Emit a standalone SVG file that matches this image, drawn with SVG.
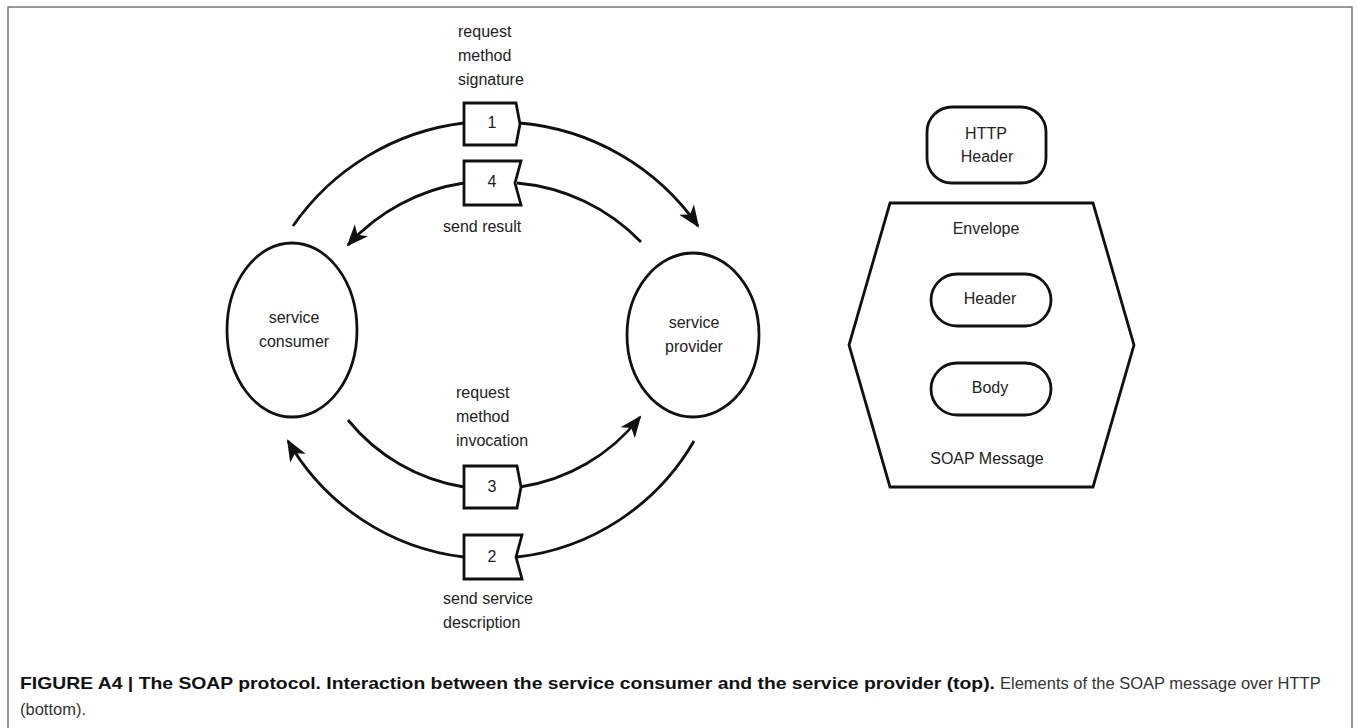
<svg xmlns="http://www.w3.org/2000/svg" width="1356" height="728" viewBox="0 0 1356 728">
<style>
.shape{fill:#fff;stroke:#111;stroke-width:2.8}
.conn{fill:none;stroke:#111;stroke-width:2.8}
text{font-family:"Liberation Sans",Arial,sans-serif;font-size:16px;fill:#222}
.c{text-anchor:middle}
.cap{font-size:16.5px}
.capb{font-weight:bold;fill:#111;font-size:17px}
.capn{fill:#333}
</style>
<defs>
<marker id="arrow" markerUnits="userSpaceOnUse" markerWidth="24" markerHeight="20" refX="20" refY="9" orient="auto">
<path d="M0,0 L22,9 L0,18 L6,9 Z" fill="#111"/>
</marker>
</defs>
<rect width="1356" height="728" fill="#fff"/>
<path d="M8,728 V7 H1352 V728" fill="none" stroke="#777" stroke-width="1.5"/>

<g id="connectors">
<path class="conn" d="M293,226 A243,243 0 0 1 464,123"/>
<path class="conn" d="M520,123 A243,243 0 0 1 698,226" marker-end="url(#arrow)"/>
<path class="conn" d="M641,242 A196,196 0 0 0 517,183"/>
<path class="conn" d="M464,183 A196,196 0 0 0 348,245" marker-end="url(#arrow)"/>
<path class="conn" d="M348,420 A187,187 0 0 0 464,487"/>
<path class="conn" d="M520,487 A187,187 0 0 0 640,417" marker-end="url(#arrow)"/>
<path class="conn" d="M694,441 A235,235 0 0 1 517,557"/>
<path class="conn" d="M464,557 A235,235 0 0 1 288,441" marker-end="url(#arrow)"/>
</g>

<g id="consumer">
<ellipse class="shape" cx="292" cy="330" rx="65" ry="87"/>
<text class="c" x="294" y="323">service</text>
<text class="c" x="294" y="347">consumer</text>
</g>

<g id="provider">
<ellipse class="shape" cx="693" cy="335" rx="66" ry="82"/>
<text class="c" x="694" y="328">service</text>
<text class="c" x="694" y="352">provider</text>
</g>

<g id="msg1">
<path class="shape" d="M464,103 H516 L520,124 L516,145 H464 Z"/>
<text class="c" x="492" y="128">1</text>
<text x="458" y="37">request</text>
<text x="458" y="61">method</text>
<text x="458" y="85">signature</text>
</g>

<g id="msg4">
<path class="shape" d="M464,161 H521 L515,183 L521,205 H464 Z"/>
<text class="c" x="492" y="187">4</text>
<text x="443" y="232">send result</text>
</g>

<g id="msg3">
<path class="shape" d="M464,466 H517 L521,487 L517,508 H464 Z"/>
<text class="c" x="492" y="492">3</text>
<text x="456" y="398">request</text>
<text x="456" y="422">method</text>
<text x="456" y="446">invocation</text>
</g>

<g id="msg2">
<path class="shape" d="M464,535 H522 L516,557 L522,579 H464 Z"/>
<text class="c" x="492" y="562">2</text>
<text x="443" y="604">send service</text>
<text x="443" y="628">description</text>
</g>

<g id="http-header">
<rect class="shape" x="927" y="107" width="119" height="76" rx="25" ry="25"/>
<text class="c" x="986" y="139">HTTP</text>
<text class="c" x="987" y="162">Header</text>
</g>

<g id="soap-message">
<path class="shape" d="M890,203 H1093 L1134,345 L1093,487 H890 L849,345 Z"/>
<text class="c" x="986" y="234">Envelope</text>
<text class="c" x="987" y="464">SOAP Message</text>
</g>

<g id="soap-header">
<rect class="shape" x="931" y="274" width="120" height="52" rx="26" ry="26"/>
<text class="c" x="990" y="304">Header</text>
</g>

<g id="soap-body">
<rect class="shape" x="931" y="363" width="120" height="52" rx="26" ry="26"/>
<text class="c" x="990" y="393">Body</text>
</g>

<g id="caption">
<text class="cap capb" x="20" y="689" textLength="975" lengthAdjust="spacingAndGlyphs">FIGURE A4 | The SOAP protocol. Interaction between the service consumer and the service provider (top).</text>
<text class="cap capn" x="1000" y="689">Elements of the SOAP message over HTTP</text>
<text class="cap capn" x="20" y="715">(bottom).</text>
</g>
</svg>
